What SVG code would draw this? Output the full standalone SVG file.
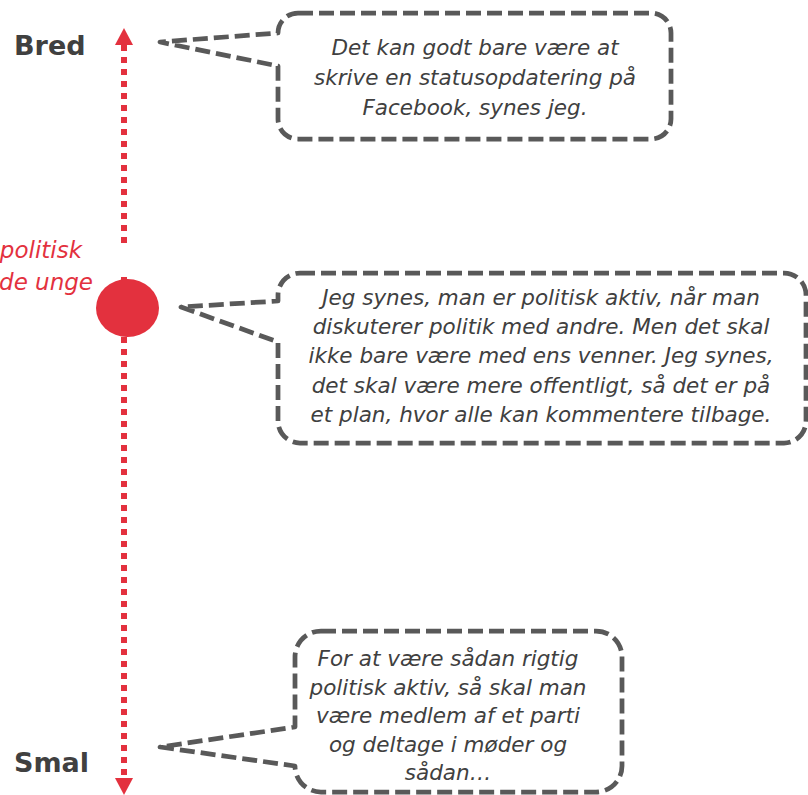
<svg xmlns="http://www.w3.org/2000/svg" width="808" height="795" viewBox="0 0 808 795">
<style>
.bubble{fill:#fff;stroke:#595959;stroke-width:4.75;stroke-dasharray:15 6;stroke-linejoin:round}
.q{font-family:"DejaVu Sans",Verdana,sans-serif;font-style:italic;font-size:21.5px;fill:#404040;text-anchor:middle}
.lbl{font-family:"DejaVu Sans",Verdana,sans-serif;font-weight:bold;font-size:27px;fill:#404040}
.red{font-family:"DejaVu Sans",Verdana,sans-serif;font-style:italic;font-size:23px;fill:#E3313E;text-anchor:end}
.axis{stroke:#E3313E;stroke-width:6;stroke-dasharray:6 6;fill:none}
</style>
<defs>
<marker id="arr" markerUnits="userSpaceOnUse" markerWidth="18" markerHeight="18" refX="0" refY="9" orient="auto-start-reverse">
<path d="M0,0 L17,9 L0,18 Z" fill="#E3313E"/>
</marker>
</defs>
<rect width="808" height="795" fill="#fff"/>
<g id="connectors">
<line class="axis" x1="124" y1="45" x2="124" y2="246" marker-start="url(#arr)"/>
<line class="axis" x1="124" y1="277" x2="124" y2="778" marker-end="url(#arr)"/>
</g>
<g id="label-bred"><text class="lbl" x="14" y="55">Bred</text></g>
<g id="label-smal"><text class="lbl" x="14" y="772">Smal</text></g>
<g id="label-red">
<text class="red" x="82" y="258">politisk</text>
<text class="red" x="93" y="290">de unge</text>
</g>
<g id="marker-dot"><ellipse cx="127.5" cy="308" rx="31.5" ry="29" fill="#E3313E"/></g>
<g id="bubble1">
<path class="bubble" d="M298,13 H651 A20 20 0 0 1 671,33 V119 A20 20 0 0 1 651,139 H298 A20 20 0 0 1 278,119 V66 L160,42 L278,33 A20 20 0 0 1 298,13 Z"/>
<text class="q" x="475" y="55">Det kan godt bare være at</text>
<text class="q" x="475" y="85">skrive en statusopdatering på</text>
<text class="q" x="475" y="115">Facebook, synes jeg.</text>
</g>
<g id="bubble2">
<path class="bubble" d="M300,273 H784 A22 22 0 0 1 806,295 V421 A22 22 0 0 1 784,443 H300 A22 22 0 0 1 278,421 V342 L181,307 L278,301 V295 A22 22 0 0 1 300,273 Z"/>
<text class="q" x="541" y="305">Jeg synes, man er politisk aktiv, når man</text>
<text class="q" x="541" y="334.2">diskuterer politik med andre. Men det skal</text>
<text class="q" x="541" y="363.4">ikke bare være med ens venner. Jeg synes,</text>
<text class="q" x="541" y="392.6">det skal være mere offentligt, så det er på</text>
<text class="q" x="541" y="421.8">et plan, hvor alle kan kommentere tilbage.</text>
</g>
<g id="bubble3">
<path class="bubble" d="M321,631 H596 A26 26 0 0 1 622,657 V766 A26 26 0 0 1 596,792 H321 A26 26 0 0 1 295,766 L160,747 L295,727 V657 A26 26 0 0 1 321,631 Z"/>
<text class="q" x="448" y="666">For at være sådan rigtig</text>
<text class="q" x="448" y="694.6">politisk aktiv, så skal man</text>
<text class="q" x="448" y="723.2">være medlem af et parti</text>
<text class="q" x="448" y="751.8">og deltage i møder og</text>
<text class="q" x="448" y="780.4">sådan…</text>
</g>
</svg>
